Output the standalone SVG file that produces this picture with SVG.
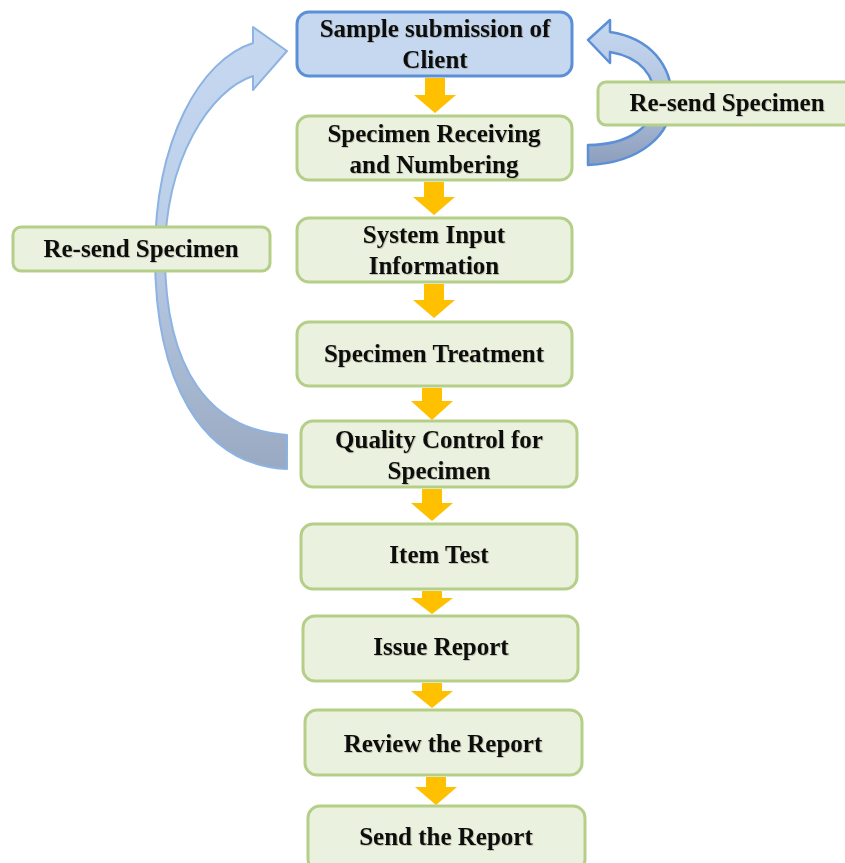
<svg xmlns="http://www.w3.org/2000/svg" width="845" height="863" viewBox="0 0 845 863">
<defs>
<style>
.box{fill:#ebf1df;stroke:#b6cf88;stroke-width:3}
.blue{fill:#c6d8f0;stroke:#5b8fd6;stroke-width:3}
.t{font-family:"Liberation Serif","Times New Roman",serif;font-weight:bold;font-size:25px;fill:#111;text-anchor:middle;filter:url(#sh)}
.ya{fill:#ffc000}
</style>
<filter id="sh" x="-10%" y="-30%" width="120%" height="160%">
<feDropShadow dx="0.8" dy="0.8" stdDeviation="0.6" flood-color="#3a3a20" flood-opacity="0.3"/>
</filter>
<linearGradient id="gl" x1="0" y1="0" x2="0" y2="1">
<stop offset="0" stop-color="#c7d9f1"/>
<stop offset="0.45" stop-color="#bccfe9"/>
<stop offset="1" stop-color="#99a9c1"/>
</linearGradient>
<linearGradient id="gr" x1="0" y1="0" x2="0" y2="1">
<stop offset="0" stop-color="#c7d9f1"/>
<stop offset="0.5" stop-color="#b2c4df"/>
<stop offset="1" stop-color="#8c9ebb"/>
</linearGradient>
</defs>

<g id="connectors">
<path id="loop-left" d="M287,469 C200,465 155,380 155,255 C155,140 200,60 253,43 L253,27 L287,51 L253,90 L253,76 C210,90 165,160 165,255 C165,370 210,430 287,435 Z" fill="url(#gl)" stroke="#8db3e2" stroke-width="2" stroke-linejoin="round"/>
<path id="loop-right" d="M588,165 C640,163 672,135 672,100 C672,65 650,38 610,32 L610,20 L588,40 L610,63 L610,52 C640,57 655,75 655,100 C655,125 630,145 588,145 Z" fill="url(#gr)" stroke="#5b8fd6" stroke-width="2.5" stroke-linejoin="round"/>
<path class="ya" d="M425,78 H445 V95 H456 L435,113 L414,95 H425 Z"/>
<path class="ya" d="M424,182 H444 V197 H455 L434,215 L413,197 H424 Z"/>
<path class="ya" d="M424,284 H444 V300 H455 L434,318 L413,300 H424 Z"/>
<path class="ya" d="M422,388 H442 V401 H453 L432,420 L411,401 H422 Z"/>
<path class="ya" d="M422,489 H442 V503 H453 L432,521 L411,503 H422 Z"/>
<path class="ya" d="M422,591 H442 V598 H453 L432,614 L411,598 H422 Z"/>
<path class="ya" d="M422,683 H442 V691 H453 L432,708 L411,691 H422 Z"/>
<path class="ya" d="M426,777 H446 V787 H457 L436,805 L415,787 H426 Z"/>
</g>

<g id="n1"><rect class="blue" x="297" y="12" width="275" height="64" rx="12"/><text class="t" x="435" y="37">Sample submission of</text><text class="t" x="435" y="68">Client</text></g>
<g id="n2"><rect class="box" x="297" y="116" width="275" height="64" rx="12"/><text class="t" x="434" y="142">Specimen Receiving</text><text class="t" x="434" y="173">and Numbering</text></g>
<g id="n3"><rect class="box" x="297" y="218" width="275" height="64" rx="12"/><text class="t" x="434" y="243">System Input</text><text class="t" x="434" y="274">Information</text></g>
<g id="n4"><rect class="box" x="297" y="322" width="275" height="64" rx="12"/><text class="t" x="434" y="362">Specimen Treatment</text></g>
<g id="n5"><rect class="box" x="301" y="421" width="276" height="66" rx="12"/><text class="t" x="439" y="448">Quality Control for</text><text class="t" x="439" y="479">Specimen</text></g>
<g id="n6"><rect class="box" x="301" y="524" width="276" height="65" rx="12"/><text class="t" x="439" y="563">Item Test</text></g>
<g id="n7"><rect class="box" x="303" y="616" width="275" height="65" rx="12"/><text class="t" x="441" y="655">Issue Report</text></g>
<g id="n8"><rect class="box" x="305" y="710" width="277" height="65" rx="12"/><text class="t" x="443" y="752">Review the Report</text></g>
<g id="n9"><rect class="box" x="308" y="806" width="277" height="65" rx="12"/><text class="t" x="446" y="845">Send the Report</text></g>
<g id="resend-right"><rect class="box" x="598" y="82" width="258" height="43" rx="8"/><text class="t" x="727" y="111">Re-send Specimen</text></g>
<g id="resend-left"><rect class="box" x="13" y="227" width="257" height="44" rx="8"/><text class="t" x="141" y="257">Re-send Specimen</text></g>
</svg>
